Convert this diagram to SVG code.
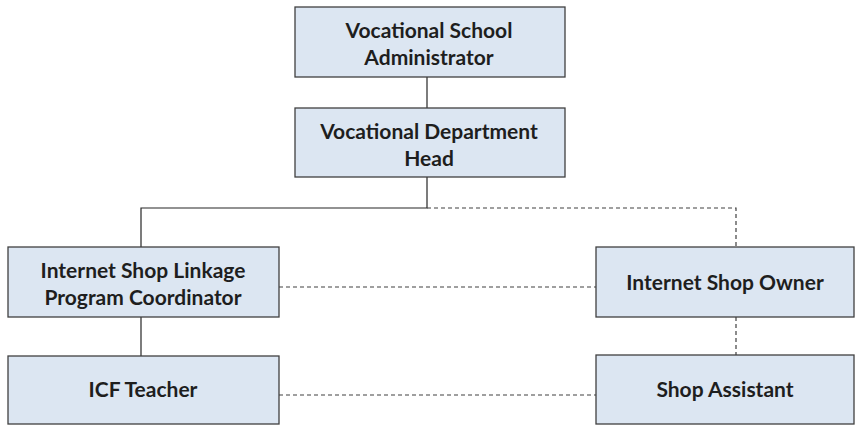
<svg xmlns="http://www.w3.org/2000/svg" width="855" height="425" viewBox="0 0 855 425">
<style>
.box{fill:#dce6f2;stroke:#404040;stroke-width:1.3}
.t{font-family:Lato,"Liberation Sans",sans-serif;font-weight:bold;font-size:21px;fill:#1e1e1e;text-anchor:middle}
.s{stroke:#262626;stroke-width:1.2;fill:none}
.d{stroke:#404040;stroke-width:1.2;fill:none;stroke-dasharray:4 3}
</style>
<rect width="855" height="425" fill="#ffffff"/>
<g id="connectors">
<path class="s" d="M427 77V108"/>
<path class="s" d="M427 177V208H141V247"/>
<path class="d" d="M427 208H736V247"/>
<path class="s" d="M141 317V356"/>
<path class="d" d="M736 317V355"/>
<path class="d" d="M279 287H596"/>
<path class="d" d="M279 395H596"/>
</g>
<g id="admin">
<rect class="box" x="295" y="7" width="270" height="70"/>
<text class="t" x="429" y="38">Vocational School</text>
<text class="t" x="429" y="65">Administrator</text>
</g>
<g id="head">
<rect class="box" x="295" y="108" width="270" height="69"/>
<text class="t" x="429" y="139">Vocational Department</text>
<text class="t" x="429" y="166">Head</text>
</g>
<g id="coord">
<rect class="box" x="8" y="247" width="271" height="70"/>
<text class="t" x="143" y="278">Internet Shop Linkage</text>
<text class="t" x="143" y="305">Program Coordinator</text>
</g>
<g id="teacher">
<rect class="box" x="8" y="356" width="271" height="68"/>
<text class="t" x="143" y="397">ICF Teacher</text>
</g>
<g id="owner">
<rect class="box" x="596" y="247" width="258" height="70"/>
<text class="t" x="725" y="290">Internet Shop Owner</text>
</g>
<g id="assistant">
<rect class="box" x="596" y="355" width="258" height="69"/>
<text class="t" x="725" y="397">Shop Assistant</text>
</g>
</svg>
